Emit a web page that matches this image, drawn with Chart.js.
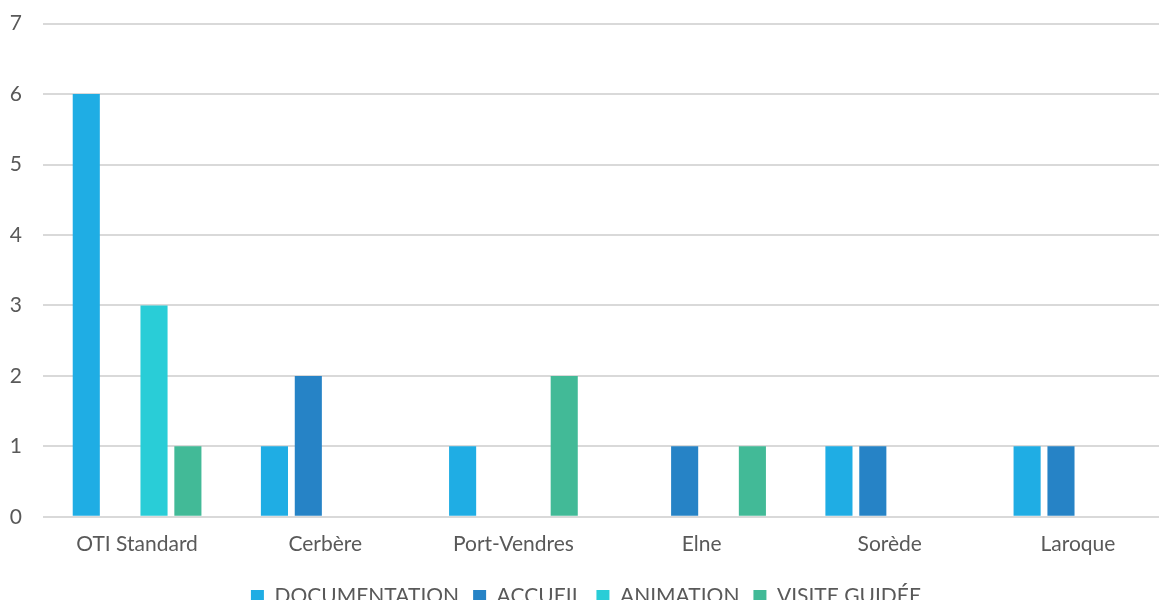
<!DOCTYPE html>
<html>
<head>
<meta charset="utf-8">
<script src="https://cdn.jsdelivr.net/npm/chart.js@4"></script>
<style>
  html, body { margin: 0; padding: 0; background: #fff; overflow: hidden; }
  #wrap { width: 1172px; height: 627px; position: relative; margin-top: -10px; }
</style>
</head>
<body>
<div id="wrap"><canvas id="chart"></canvas></div>
<script>
const categories = ['OTI Standard', 'Cerbère', 'Port-Vendres', 'Elne', 'Sorède', 'Laroque'];
const documentation = [6, 1, 1, 0, 1, 1];
const accueil = [0, 2, 0, 1, 1, 1];
const animation = [3, 0, 0, 0, 0, 0];
const visiteGuidee = [1, 0, 2, 1, 0, 0];

const font = "'Lato', 'Open Sans', sans-serif";

function series(label, data, color) {
    return {
        label: label,
        data: data,
        backgroundColor: color,
        borderWidth: 0,
        barPercentage: 0.8,
        categoryPercentage: 0.72
    };
}

const ctx = document.getElementById('chart');

new Chart(ctx, {
    type: 'bar',
    data: {
        labels: categories,
        datasets: [
            series('DOCUMENTATION', documentation, '#1FADE4'),
            series('ACCUEIL', accueil, '#2683C6'),
            series('ANIMATION', animation, '#29CDD7'),
            series('VISITE GUIDÉE', visiteGuidee, '#42BA97')
        ]
    },
    options: {
        responsive: true,
        maintainAspectRatio: false,
        animation: false,
        layout: {
            padding: { left: 0, top: 4, right: 0, bottom: 0 }
        },
        scales: {
            x: {
                grid: { display: false, drawTicks: false },
                border: { display: false },
                ticks: {
                    color: '#595959',
                    font: { family: font, size: 21 },
                    padding: 15
                }
            },
            y: {
                min: 0,
                max: 7,
                grid: { color: '#d9d9d9', lineWidth: 2, drawTicks: false },
                border: { display: false },
                afterFit: scale => { scale.width = 43; },
                ticks: {
                    stepSize: 1,
                    color: '#595959',
                    font: { family: font, size: 21 },
                    padding: 21
                }
            }
        },
        plugins: {
            legend: {
                position: 'bottom',
                labels: {
                    color: '#595959',
                    font: { family: font, size: 21 },
                    boxWidth: 13,
                    boxHeight: 13,
                    padding: 14,
                    useBorderRadius: false
                }
            },
            tooltip: { enabled: false }
        }
    }
});
</script>
</body>
</html>
